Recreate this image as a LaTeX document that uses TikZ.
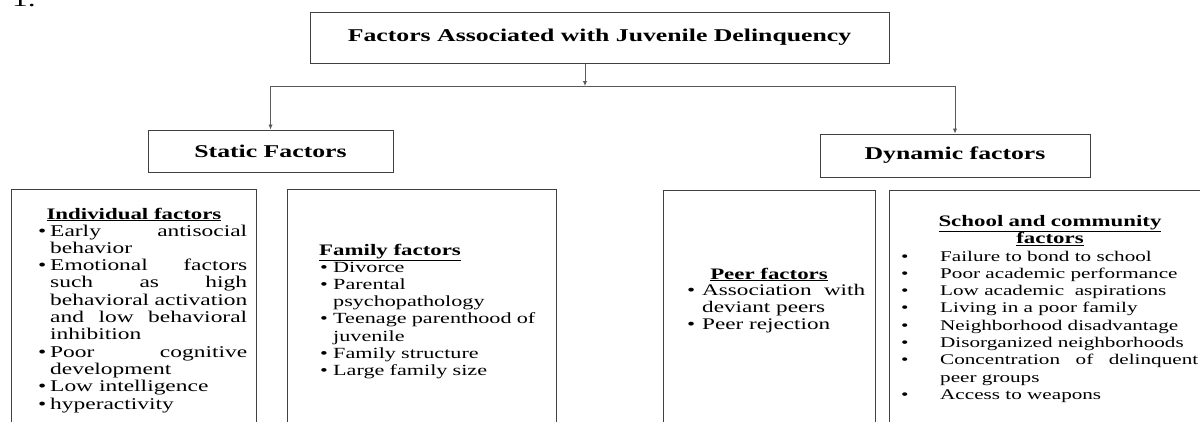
\documentclass[tikz,border=0pt]{standalone}
\usepackage{fontspec}
\setmainfont{Liberation Serif}[FakeStretch=1.43]
\usetikzlibrary{arrows.meta}

\newlength\bulgap
\newcommand{\itm}[1]{\hangindent=\bulgap\hangafter=1\makebox[\bulgap][l]{\textbullet}\ignorespaces#1\par}

\tikzset{
  factorbox/.style={draw=black!75, line width=1pt, inner sep=0pt},
  headtext/.style={font=\fontsize{18}{21}\selectfont\bfseries},
  subhead/.style={inner sep=0pt, anchor=base, font=\fontsize{16}{17.3}\selectfont\bfseries},
  listtext/.style={inner sep=0pt, anchor=base west,
    execute at begin node={\parindent=0pt\hyphenpenalty=10000\tolerance=9999}},
  link/.style={draw=black!65, line width=0.9pt},
}

\begin{document}
\begin{tikzpicture}[x=1pt, y=-1pt, >={Latex[length=5pt,width=4.5pt]}]
\useasboundingbox (0,0) rectangle (1200,421);
\node[anchor=base west, inner sep=0pt, font=\fontsize{22}{24}\selectfont] (fignum) at (12,6) {1.};

\node[factorbox, headtext, minimum width=579pt, minimum height=51pt] (main) at (599.5,37.5) {Factors Associated with Juvenile Delinquency};
\node[factorbox, headtext, minimum width=245pt, minimum height=42pt] (static) at (270.5,151) {Static Factors};
\node[factorbox, headtext, minimum width=270pt, minimum height=43pt] (dynamic) at (955,155.5) {Dynamic factors};

\coordinate (hub) at (585,86);
\draw[link, ->] (main.south -| hub) -- (hub);
\draw[link, ->] (hub) -| (static.north);
\draw[link, ->] (hub) -| (dynamic.north);

\node[factorbox, anchor=north west, minimum width=245pt, minimum height=250pt] (indiv) at (11,189) {};
\node[factorbox, anchor=north west, minimum width=269pt, minimum height=250pt] (family) at (287,189) {};
\node[factorbox, anchor=north west, minimum width=212pt, minimum height=250pt] (peer) at (663,190) {};
\node[factorbox, anchor=north west, minimum width=340pt, minimum height=250pt] (school) at (889,190) {};

\node[subhead] (indhead) at (134,219) {\underline{Individual factors}};
\node[listtext, text width=209pt, align=justify, font=\fontsize{16.4}{17.3}\selectfont] (indlist) at (38,236) {\setlength\bulgap{12pt}%
\itm{Early antisocial behavior}
\itm{Emotional factors such as high behavioral activation and low behavioral inhibition}
\itm{Poor cognitive development}
\itm{Low intelligence}
\itm{hyperactivity}};

\node[subhead, anchor=base west] (famhead) at (319,255) {\underline{Family factors}};
\node[listtext, text width=229pt, align=left, font=\fontsize{15.5}{17.3}\selectfont] (famlist) at (320,272) {\setlength\bulgap{13pt}%
\itm{Divorce}
\itm{Parental psychopathology}
\itm{Teenage parenthood of juvenile}
\itm{Family structure}
\itm{Large family size}};

\node[subhead] (peerhead) at (769,279) {\underline{Peer factors}};
\node[listtext, text width=178pt, align=justify, font=\fontsize{16.2}{17.3}\selectfont] (peerlist) at (687,295) {\setlength\bulgap{15pt}%
\itm{Association with deviant peers}
\itm{Peer rejection}};

\node[subhead, text width=300pt, align=center] (schoolhead) at (1050,226) {\underline{School and community}\\\underline{factors}};
\node[listtext, text width=297pt, align=justify, font=\fontsize{14.8}{17.3}\selectfont] (schoollist) at (901,261) {\setlength\bulgap{39pt}%
\itm{Failure to bond to school}
\itm{Poor academic performance}
\itm{Low academic\ \ aspirations}
\itm{Living in a poor family}
\itm{Neighborhood disadvantage}
\itm{Disorganized neighborhoods}
\itm{Concentration of delinquent peer groups}
\itm{Access to weapons}};
\end{tikzpicture}
\end{document}
